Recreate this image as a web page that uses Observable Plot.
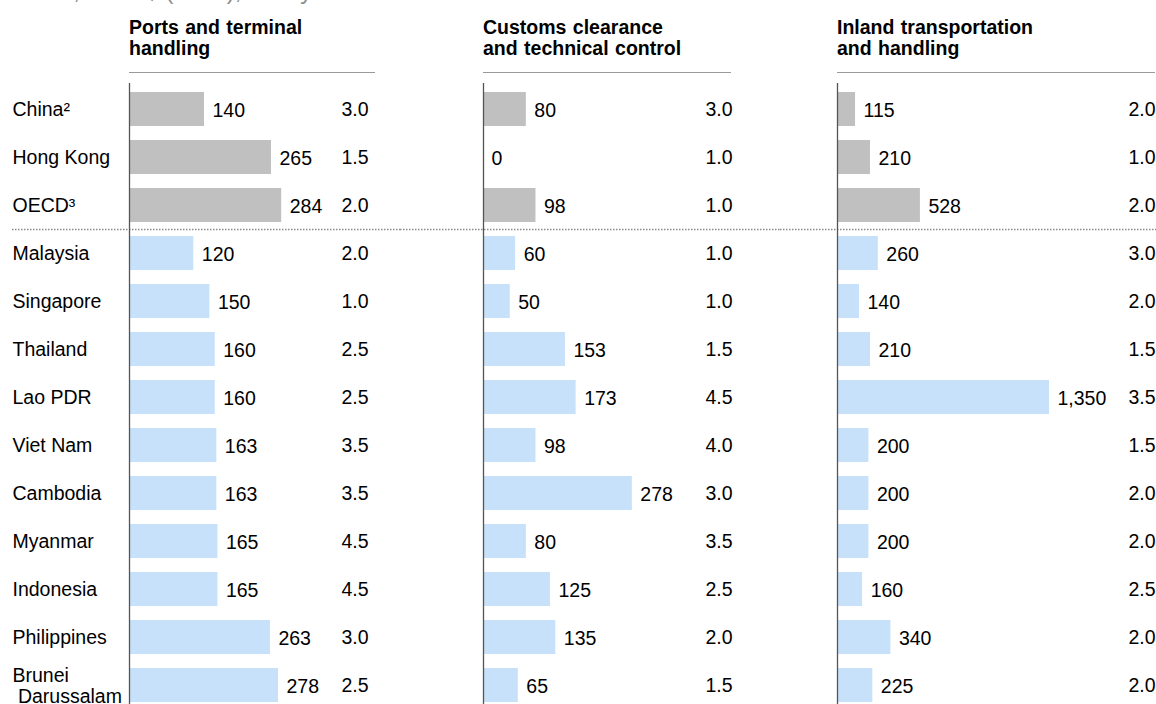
<!DOCTYPE html>
<html>
<head>
<meta charset="utf-8">
<script src="https://cdn.jsdelivr.net/npm/d3@7"></script>
<script src="https://cdn.jsdelivr.net/npm/@observablehq/plot@0.6"></script>
<style>
  html, body { margin: 0; padding: 0; background: #fff; overflow: hidden; }
  #wrap { position: relative; width: 1156px; height: 704px; overflow: hidden; font-family: "Liberation Sans", Arial, sans-serif; color: #000; }
  .title { position: absolute; left: 12px; top: -21px; font-size: 24px; line-height: 24px; color: #8c8c8c; white-space: nowrap; }
  .head { position: absolute; top: 17px; height: 55px; font-size: 19.5px; line-height: 21px; font-weight: bold; border-bottom: 1px solid #9a9a9a; box-sizing: content-box; word-spacing: 1px; }
  .panel { position: absolute; top: 0; }
</style>
</head>
<body>
<div id="wrap">
  <div class="title">Costs, in US$ (2014), in days</div>
</div>
<script>
// ---- data ----
const categories = ["China²", "Hong Kong", "OECD³", "Malaysia", "Singapore", "Thailand", "Lao PDR", "Viet Nam", "Cambodia", "Myanmar", "Indonesia", "Philippines", "Brunei\n\u00a0Darussalam"];
const groups = ["benchmark", "benchmark", "benchmark", "ASEAN", "ASEAN", "ASEAN", "ASEAN", "ASEAN", "ASEAN", "ASEAN", "ASEAN", "ASEAN", "ASEAN"];
const panelTitles = ["Ports and terminal\nhandling", "Customs clearance\nand technical control", "Inland transportation\nand handling"];
const portsCost = [140, 265, 284, 120, 150, 160, 160, 163, 163, 165, 165, 263, 278];
const portsDays = [3.0, 1.5, 2.0, 2.0, 1.0, 2.5, 2.5, 3.5, 3.5, 4.5, 4.5, 3.0, 2.5];
const customsCost = [80, 0, 98, 60, 50, 153, 173, 98, 278, 80, 125, 135, 65];
const customsDays = [3.0, 1.0, 1.0, 1.0, 1.0, 1.5, 4.5, 4.0, 3.0, 3.5, 2.5, 2.0, 1.5];
const inlandCost = [115, 210, 528, 260, 140, 210, 1350, 200, 200, 200, 160, 340, 225];
const inlandDays = [2.0, 1.0, 2.0, 3.0, 2.0, 1.5, 3.5, 1.5, 2.0, 2.0, 2.5, 2.0, 2.0];
const separatorBefore = "Malaysia";

// ---- layout (styles / positions only) ----
const panels = [
  {title: panelTitles[0], cost: portsCost, days: portsDays, left: 0, width: 400, marginLeft: 129, marginRight: 32, xMax: 446, headWidth: 246, labels: true},
  {title: panelTitles[1], cost: customsCost, days: customsDays, left: 400, width: 380, marginLeft: 83, marginRight: 48, xMax: 465, headWidth: 248, labels: false},
  {title: panelTitles[2], cost: inlandCost, days: inlandDays, left: 780, width: 376, marginLeft: 57, marginRight: 1, xMax: 2025, headWidth: 318, labels: false}
];

const wrap = document.getElementById("wrap");
const fmt = d3.format(",");
const FONT = 19.5;

for (const p of panels) {
  const rows = categories.map((c, i) => ({cat: c, group: groups[i], value: p.cost[i], days: p.days[i]}));

  const head = document.createElement("div");
  head.className = "head";
  head.style.left = (p.left + p.marginLeft) + "px";
  head.style.width = p.headWidth + "px";
  head.innerHTML = p.title.split("\n").join("<br>");
  wrap.appendChild(head);

  const marks = [
    Plot.ruleY([separatorBefore], {dy: -24, stroke: "#8a8a8a", strokeWidth: 1.3, strokeDasharray: "1.5,1.5",
      insetLeft: p.labels ? -(p.marginLeft - 12) : -p.marginLeft, insetRight: -p.marginRight}),
    Plot.barX(rows, {x: "value", y: "cat", fill: "group", insetLeft: 1}),
    Plot.ruleX([0], {stroke: "#555", strokeWidth: 1.3}),
    Plot.text(rows, {x: "value", y: "cat", text: d => fmt(d.value), textAnchor: "start", dx: 8, dy: 1, fontSize: FONT, fill: "#000"}),
    Plot.text(rows, {y: "cat", text: d => d.days.toFixed(1), frameAnchor: "right", textAnchor: "end", fontSize: FONT, fill: "#000"})
  ];
  if (p.labels) {
    marks.push(Plot.text(rows, {y: "cat", text: "cat", frameAnchor: "left", textAnchor: "start", dx: -(p.marginLeft - 12), fontSize: FONT, lineHeight: 1.1, fill: "#000"}));
  }

  const chart = Plot.plot({
    width: p.width,
    height: 712,
    marginTop: 83,
    marginBottom: 2,
    marginLeft: p.marginLeft,
    marginRight: p.marginRight,
    style: {fontFamily: "'Liberation Sans', Arial, sans-serif", fontSize: FONT + "px", color: "#000", background: "transparent", overflow: "visible"},
    x: {domain: [0, p.xMax], axis: null},
    y: {domain: categories, paddingInner: 0.3, paddingOuter: 0.15, axis: null},
    color: {domain: ["benchmark", "ASEAN"], range: ["#c0c0c0", "#c7e1fa"]},
    marks
  });
  chart.classList.add("panel");
  chart.style.left = p.left + "px";
  wrap.appendChild(chart);
}
</script>
</body>
</html>
